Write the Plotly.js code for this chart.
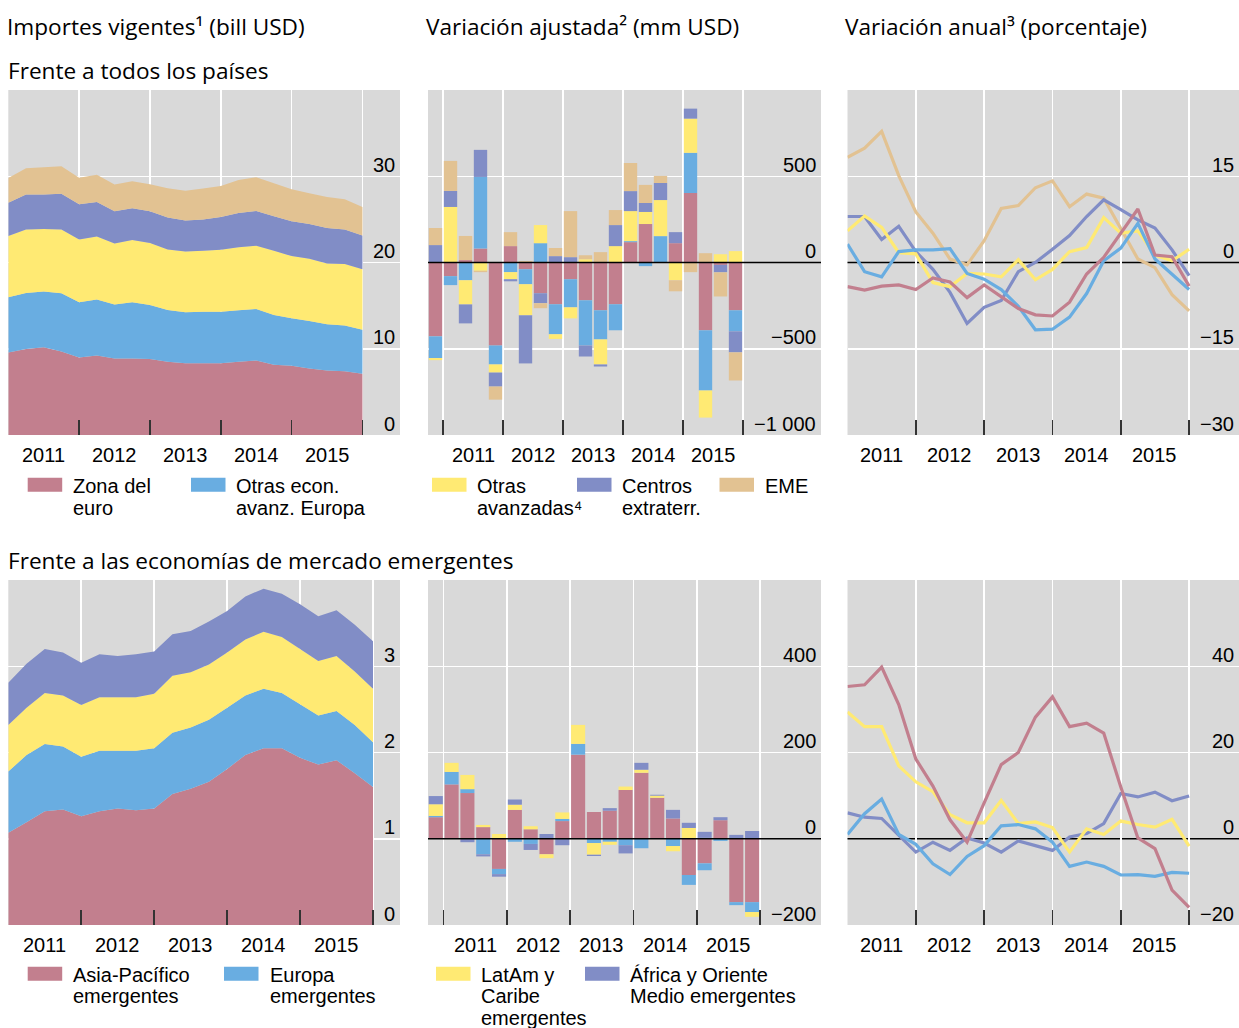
<!DOCTYPE html>
<html>
<head>
<meta charset="utf-8">
<script src="https://cdn.plot.ly/plotly-3.0.1.min.js"></script>
<style>
html,body{margin:0;padding:0;background:#fff;}
#chart{width:1239px;height:1028px;}
</style>
</head>
<body>
<div id="chart"></div>
<script>
// ---------------- DATA ----------------
const quarters = ['2010Q4','2011Q1','2011Q2','2011Q3','2011Q4','2012Q1','2012Q2','2012Q3','2012Q4',
  '2013Q1','2013Q2','2013Q3','2013Q4','2014Q1','2014Q2','2014Q3','2014Q4','2015Q1','2015Q2','2015Q3','2015Q4'];
const years = ['2011','2012','2013','2014','2015'];
const yearBounds = [2011,2012,2013,2014,2015,2016];

// Frente a todos los países — importes vigentes (bill USD)
const allEuro        = [9.57,9.96,10.16,9.69,8.99,9.22,8.88,8.88,8.80,8.49,8.33,8.33,8.33,8.49,8.64,8.14,8.02,7.71,7.48,7.40,7.09];
const allOtrasEuropa = [6.40,6.51,6.47,6.74,6.40,6.48,6.24,6.51,6.28,6.01,5.89,5.97,5.97,5.97,5.97,5.77,5.51,5.51,5.35,5.31,5.12];
const allOtrasAvanz  = [7.09,7.37,7.25,7.41,7.28,7.32,7.09,7.21,7.17,7.01,7.06,7.06,7.17,7.32,7.33,7.45,7.21,7.21,7.05,7.13,7.01];
const allCentros     = [3.88,4.03,3.99,4.14,4.07,4.00,3.72,3.68,3.68,3.72,3.60,3.64,3.80,3.96,4.03,3.99,4.03,4.03,4.11,4.00,3.92];
const allEME         = [2.87,3.06,3.18,3.18,3.10,3.14,3.10,3.14,3.14,3.37,3.45,3.57,3.61,3.83,3.91,3.84,3.72,3.56,3.61,3.49,3.29];

// Variación ajustada (mm USD)
const chgEuro        = [-428,-79,14,81,-481,95,-39,-178,-242,-97,-219,-277,-242,118,223,0,112,403,-393,-14,-277];
const chgOtrasEuropa = [-126,-52,-103,415,-110,-56,-87,112,-174,-163,-262,-169,-151,6,-21,153,0,233,-349,0,-122];
const chgOtrasAvanz  = [-12,322,-140,-48,-47,-41,-180,105,-27,-64,19,-145,95,174,70,209,-103,198,-157,48,66];
const chgCentros     = [101,93,-110,157,-81,-12,-279,-58,37,31,-64,-12,122,116,52,99,64,58,0,-43,-122];
const chgEME         = [99,174,140,-8,-76,81,8,-29,47,267,23,60,87,163,105,41,-64,-56,54,-140,-163];

// Variación anual (porcentaje)
const yoyEuro        = [-4.2,-4.8,-4.1,-3.9,-4.7,-2.7,-3.4,-6.1,-3.9,-5.9,-8.0,-9.1,-9.3,-6.9,-2.0,0.9,5.2,9.3,1.3,1.0,-4.1];
const yoyOtrasEuropa = [3.2,-1.6,-2.5,1.9,2.2,2.2,2.4,-1.9,-2.9,-4.7,-7.6,-11.7,-11.6,-9.5,-5.4,0.3,2.5,6.8,0.6,-2.0,-4.7];
const yoyOtrasAvanz  = [5.5,8.1,6.1,1.7,1.5,-3.5,-4.2,-1.9,-2.0,-2.5,0.5,-3.0,-1.2,1.9,2.6,7.8,5.1,5.5,1.3,0.3,2.3];
const yoyCentros     = [8.0,8.0,4.0,6.3,1.9,-1.2,-5.2,-10.6,-7.8,-6.6,-1.6,0.0,2.3,4.7,8.0,10.9,9.2,7.4,6.0,2.2,-2.3];
const yoyEME         = [18.3,19.9,22.8,15.1,8.8,5.1,0.6,-0.4,3.8,9.4,9.9,13.0,14.2,9.7,11.9,11.2,5.9,0.6,-0.9,-5.6,-8.4];

// Frente a las EME — importes vigentes (bill USD)
const emAsia    = [1.07,1.19,1.32,1.34,1.26,1.32,1.35,1.33,1.35,1.52,1.58,1.66,1.81,1.97,2.05,2.05,1.94,1.86,1.91,1.76,1.60];
const emEuropa  = [0.71,0.78,0.78,0.73,0.69,0.70,0.67,0.69,0.70,0.71,0.71,0.72,0.71,0.69,0.69,0.64,0.62,0.57,0.57,0.56,0.52];
const emLatam   = [0.54,0.55,0.59,0.59,0.60,0.62,0.62,0.62,0.63,0.66,0.64,0.64,0.64,0.65,0.66,0.65,0.64,0.63,0.64,0.62,0.62];
const emAfrica  = [0.49,0.51,0.51,0.50,0.49,0.50,0.48,0.50,0.49,0.48,0.48,0.50,0.48,0.50,0.50,0.50,0.52,0.52,0.53,0.54,0.55];

// Variación ajustada EME (mm USD)
const emChgAsia   = [50,126,106,27,-70,67,22,-36,41,195,62,65,113,153,95,47,-84,-57,43,-147,-147];
const emChgEuropa = [3,29,9,-36,-12,-7,-12,0,5,25,-10,-7,-15,-22,0,-17,-23,-16,-5,-7,-23];
const emChgLatam  = [27,21,33,5,11,12,7,-9,15,44,-27,-7,8,7,5,-12,25,2,0,0,-11];
const emChgAfrica = [19,0,-8,-5,-6,12,-14,11,-15,0,-3,6,-19,16,2,20,12,14,7,9,18];

// Variación anual EME (porcentaje)
const emYoyAsia   = [35.3,35.7,39.8,31.1,18.5,12.2,4.4,-0.8,8.3,17.2,20.0,28.2,32.9,26.0,26.8,24.5,12.0,0.2,-2.3,-11.9,-15.9];
const emYoyEuropa = [1.0,5.8,9.2,1.0,-1.3,-5.8,-8.3,-4.1,-1.6,3.0,3.3,2.3,-0.8,-6.4,-5.4,-6.4,-8.4,-8.3,-8.7,-7.8,-8.0];
const emYoyLatam  = [29.4,26.0,26.0,16.9,13.2,10.9,5.6,3.7,3.7,8.9,3.5,3.9,2.6,-3.1,2.3,1.0,4.1,3.3,2.7,4.5,-1.7];
const emYoyAfrica = [6.0,5.0,4.7,0.8,-3.1,-0.8,-2.7,0.2,-1.0,-3.1,-0.5,-1.6,-2.7,0.4,1.2,3.5,10.5,9.7,10.8,8.8,9.9];

// Tick labels
const tlTicks = [0,10,20,30],          tlTickText = ['0','10','20','30'];
const tmTicks = [-1000,-500,0,500],    tmTickText = ['\u22121 000','\u2212500','0','500'];
const trTicks = [-30,-15,0,15],        trTickText = ['\u221230','\u221215','0','15'];
const blTicks = [0,1,2,3],             blTickText = ['0','1','2','3'];
const bmTicks = [-200,0,200,400],      bmTickText = ['\u2212200','0','200','400'];
const brTicks = [-20,0,20,40],         brTickText = ['\u221220','0','20','40'];

// Names
const topNames = [['Zona del','euro'],['Otras econ.','avanz. Europa'],['Otras','avanzadas\u2074'],['Centros','extraterr.'],['EME']];
const botNames = [['Asia-Pacífico','emergentes'],['Europa','emergentes'],['LatAm y','Caribe','emergentes'],['África y Oriente','Medio emergentes']];

// ---------------- STYLE ----------------
const C = {red:'#C27F8E', blue:'#69ADE1', yellow:'#FFEA73', purple:'#818DC6', orange:'#E2C292'};
const W = 1239, H = 1028;
const fx = v => v / W;
const fy = v => 1 - v / H;
const tickFont = {family:'"Liberation Sans", Arial, sans-serif', size:20, color:'#000'};
const titleFont = {family:'"Open Sans", "Noto Sans", sans-serif', size:22.6, color:'#000'};

const qEnd = quarters.map(q => +q.slice(0,4) + (+q.slice(5)) / 4);
const qMid = quarters.map(q => +q.slice(0,4) + (+q.slice(5) - 0.5) / 4);

const panels = [
  {n:'', px:[8.3,400], py:[90,435], xr:[2011,2016.53], yr:[0,40], grid:[10,20,30], zero:false, ticks:tlTicks, text:tlTickText},
  {n:'2', px:[428,821], py:[90,435], xr:[2010.75,2017.3], yr:[-1000,1000], grid:[-500,500], zero:'above', ticks:tmTicks, text:tmTickText},
  {n:'3', px:[847.5,1239], py:[90,435], xr:[2011,2016.73], yr:[-30,30], grid:[-15,15], zero:'below', ticks:trTicks, text:trTickText},
  {n:'4', px:[8.3,400], py:[580,925], xr:[2011,2016.37], yr:[0,4], grid:[1,2,3], zero:false, ticks:blTicks, text:blTickText},
  {n:'5', px:[428,821], py:[580,925], xr:[2010.752,2016.964], yr:[-200,600], grid:[200,400], zero:'above', ticks:bmTicks, text:bmTickText},
  {n:'6', px:[847.5,1239], py:[580,925], xr:[2011,2016.73], yr:[-20,60], grid:[20,40], zero:'below', ticks:brTicks, text:brTickText}
];

const traces = [];
function area(p, y, color){ traces.push({type:'scatter', x:qEnd, y:y, xaxis:'x'+p.n, yaxis:'y'+p.n, stackgroup:'s'+p.n, mode:'none', fillcolor:color, line:{width:0}, hoverinfo:'skip', showlegend:false}); }
function bar(p, y, color){ traces.push({type:'bar', x:qMid, y:y, xaxis:'x'+p.n, yaxis:'y'+p.n, marker:{color:color, line:{width:0}}, hoverinfo:'skip', showlegend:false}); }
function line(p, y, color){ traces.push({type:'scatter', mode:'lines', x:qEnd, y:y, xaxis:'x'+p.n, yaxis:'y'+p.n, line:{color:color, width:3.2}, hoverinfo:'skip', showlegend:false}); }

area(panels[0], allEuro, C.red);
area(panels[0], allOtrasEuropa, C.blue);
area(panels[0], allOtrasAvanz, C.yellow);
area(panels[0], allCentros, C.purple);
area(panels[0], allEME, C.orange);

bar(panels[1], chgEuro, C.red);
bar(panels[1], chgOtrasEuropa, C.blue);
bar(panels[1], chgOtrasAvanz, C.yellow);
bar(panels[1], chgCentros, C.purple);
bar(panels[1], chgEME, C.orange);

line(panels[2], yoyEME, C.orange);
line(panels[2], yoyCentros, C.purple);
line(panels[2], yoyOtrasAvanz, C.yellow);
line(panels[2], yoyOtrasEuropa, C.blue);
line(panels[2], yoyEuro, C.red);

area(panels[3], emAsia, C.red);
area(panels[3], emEuropa, C.blue);
area(panels[3], emLatam, C.yellow);
area(panels[3], emAfrica, C.purple);

bar(panels[4], emChgAsia, C.red);
bar(panels[4], emChgEuropa, C.blue);
bar(panels[4], emChgLatam, C.yellow);
bar(panels[4], emChgAfrica, C.purple);

line(panels[5], emYoyAfrica, C.purple);
line(panels[5], emYoyLatam, C.yellow);
line(panels[5], emYoyEuropa, C.blue);
line(panels[5], emYoyAsia, C.red);

const layout = {
  width:W, height:H, margin:{l:0,r:0,t:0,b:0}, paper_bgcolor:'#fff', plot_bgcolor:'#D9D9D9',
  barmode:'relative', bargap:0.11, showlegend:false, hovermode:false,
  annotations:[], shapes:[]
};

panels.forEach(p => {
  const xa = 'x'+p.n, ya = 'y'+p.n;
  layout['xaxis'+p.n] = {domain:[fx(p.px[0]), fx(p.px[1])], range:p.xr, anchor:ya,
    tickmode:'array', tickvals:yearBounds, ticks:'inside', ticklen:15, tickwidth:1.6, tickcolor:'#333',
    showticklabels:false, showgrid:true, gridcolor:'#fff', gridwidth:1.5, zeroline:false, showline:false, fixedrange:true};
  layout['yaxis'+p.n] = {domain:[fy(p.py[1]), fy(p.py[0])], range:p.yr, anchor:xa, side:'right',
    tickmode:'array', tickvals:p.grid, ticks:'', showticklabels:false, showgrid:true, gridcolor:'#fff', gridwidth:1.5,
    zeroline:false, showline:false, fixedrange:true};
  if (p.zero) {
    layout.shapes.push({type:'line', xref:xa+' domain', x0:0, x1:1, yref:ya, y0:0, y1:0, line:{color:'#000', width:1.5}, layer:p.zero});
  }
  p.ticks.forEach((v,i) => layout.annotations.push({xref:xa+' domain', x:1, xanchor:'right', xshift:-3,
    yref:ya, y:v, yanchor:'middle', yshift:11.5, text:p.text[i], showarrow:false, font:tickFont}));
  years.forEach(yr => layout.annotations.push({xref:xa, x:+yr + 0.5, xanchor:'center',
    yref:ya+' domain', y:0, yanchor:'middle', yshift:-19.5, text:yr, showarrow:false, font:tickFont}));
});

// Titles
const titles = [
  {t:'Importes vigentes\u00B9 (bill USD)', x:5, y:26},
  {t:'Variación ajustada\u00B2 (mm USD)', x:424, y:26},
  {t:'Variación anual\u00B3 (porcentaje)', x:843, y:26},
  {t:'Frente a todos los países', x:6, y:71},
  {t:'Frente a las economías de mercado emergentes', x:6, y:560}
];
titles.forEach(o => layout.annotations.push({xref:'paper', yref:'paper', x:fx(o.x), y:fy(o.y), xanchor:'left', yanchor:'middle',
  text:o.t, showarrow:false, font:titleFont}));

// Legends
const topLeg = [{c:C.red, sx:27.7, tx:70.5}, {c:C.blue, sx:191, tx:234}, {c:C.yellow, sx:432, tx:475}, {c:C.purple, sx:577, tx:620}, {c:C.orange, sx:719.5, tx:762.5}];
const botLeg = [{c:C.red, sx:27.7, tx:71}, {c:C.blue, sx:224, tx:267.5}, {c:C.yellow, sx:436, tx:479}, {c:C.purple, sx:585, tx:628}];
function legend(items, names, sy, ly){
  items.forEach((it,i) => {
    layout.shapes.push({type:'rect', xref:'paper', yref:'paper', x0:fx(it.sx), x1:fx(it.sx+34.5), y0:fy(sy+14), y1:fy(sy),
      fillcolor:it.c, line:{width:0}, layer:'above'});
    names[i].forEach((t,j) => layout.annotations.push({xref:'paper', yref:'paper', x:fx(it.tx), y:fy(ly + j*21.6),
      xanchor:'left', yanchor:'middle', text:t, showarrow:false, font:tickFont}));
  });
}
legend(topLeg, topNames, 477.7, 486);
legend(botLeg, botNames, 966.7, 974.5);

Plotly.newPlot('chart', traces, layout, {staticPlot:true, displayModeBar:false});
</script>
</body>
</html>
